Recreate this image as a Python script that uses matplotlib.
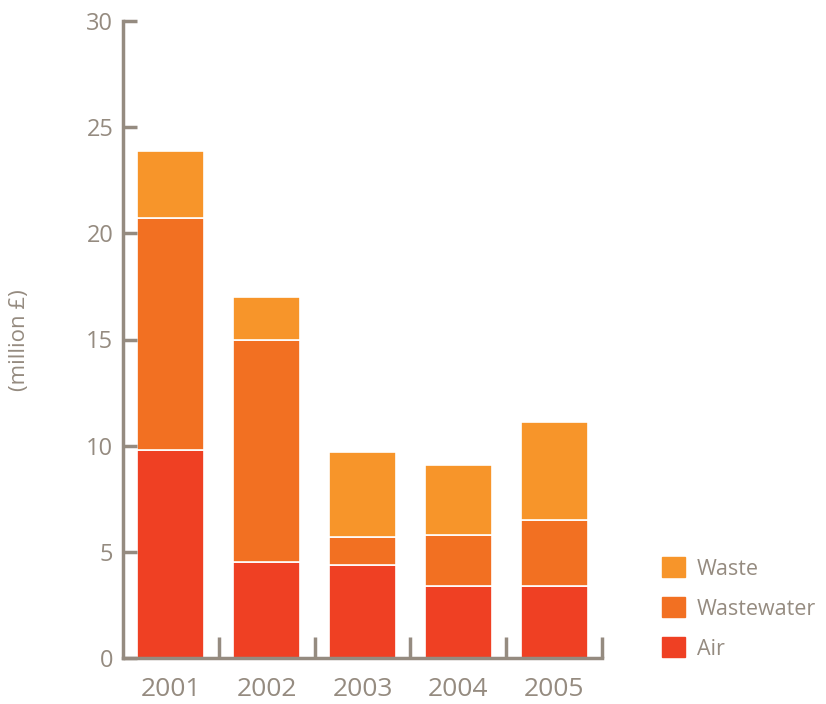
import matplotlib
matplotlib.use("Agg")
import matplotlib.pyplot as plt
import numpy as np
from matplotlib.patches import Patch

years = ["2001", "2002", "2003", "2004", "2005"]
air = [9.8, 4.5, 4.4, 3.4, 3.4]
wastewater = [10.9, 10.5, 1.3, 2.4, 3.1]
waste = [3.2, 2.0, 4.0, 3.3, 4.6]

c_air = "#EF4023"
c_ww = "#F27022"
c_waste = "#F7952A"
grey = "#958B80"

plt.rcParams["font.family"] = ["Open Sans", "DejaVu Sans"]

fig = plt.figure(figsize=(8.26, 7.04), dpi=100)
ax = fig.add_axes([123 / 826, 46 / 704, 479 / 826, 637 / 704])

x = np.arange(len(years))
air_a = np.array(air)
ww_a = np.array(wastewater)
w = 0.7
ax.bar(x, air, w, color=c_air, edgecolor="white", linewidth=1.2)
ax.bar(x, wastewater, w, bottom=air_a, color=c_ww, edgecolor="white", linewidth=1.2)
ax.bar(x, waste, w, bottom=air_a + ww_a, color=c_waste, edgecolor="white", linewidth=1.2)

ax.set_xlim(-0.5, len(years) - 0.5)
ax.set_ylim(0, 30)
for s in ["top", "right"]:
    ax.spines[s].set_visible(False)
for s in ["left", "bottom"]:
    ax.spines[s].set_color(grey)
    ax.spines[s].set_linewidth(2.5)

ax.set_yticks([0, 5, 10, 15, 20, 25, 30])
ax.tick_params(axis="y", direction="in", length=10, width=2.5, color=grey,
               labelcolor=grey, labelsize=17, pad=7)

# separator ticks between categories on the x axis
ax.set_xticks(np.arange(len(years)) + 0.5)
ax.set_xticklabels([])
ax.set_xticks(x, minor=True)
ax.set_xticklabels(years, minor=True)
ax.tick_params(axis="x", which="major", direction="in", length=15, width=2.5, color=grey)
ax.tick_params(axis="x", which="minor", length=0, labelcolor=grey, labelsize=19, pad=14)

fig.text(20 / 826, 1 - 340 / 704, "(million £)", rotation=90, ha="center", va="center",
         color=grey, fontsize=16)

handles = [Patch(color=c_waste), Patch(color=c_ww), Patch(color=c_air)]
leg = fig.legend(handles, ["Waste", "Wastewater", "Air"], loc="upper left",
                 bbox_to_anchor=(643 / 826, 1 - 538 / 704), frameon=False,
                 fontsize=15.5, handlelength=1.05, handleheight=1.05, labelspacing=0.82,
                 handletextpad=0.55)
for t in leg.get_texts():
    t.set_color(grey)

fig.savefig("out.png", dpi=100)
